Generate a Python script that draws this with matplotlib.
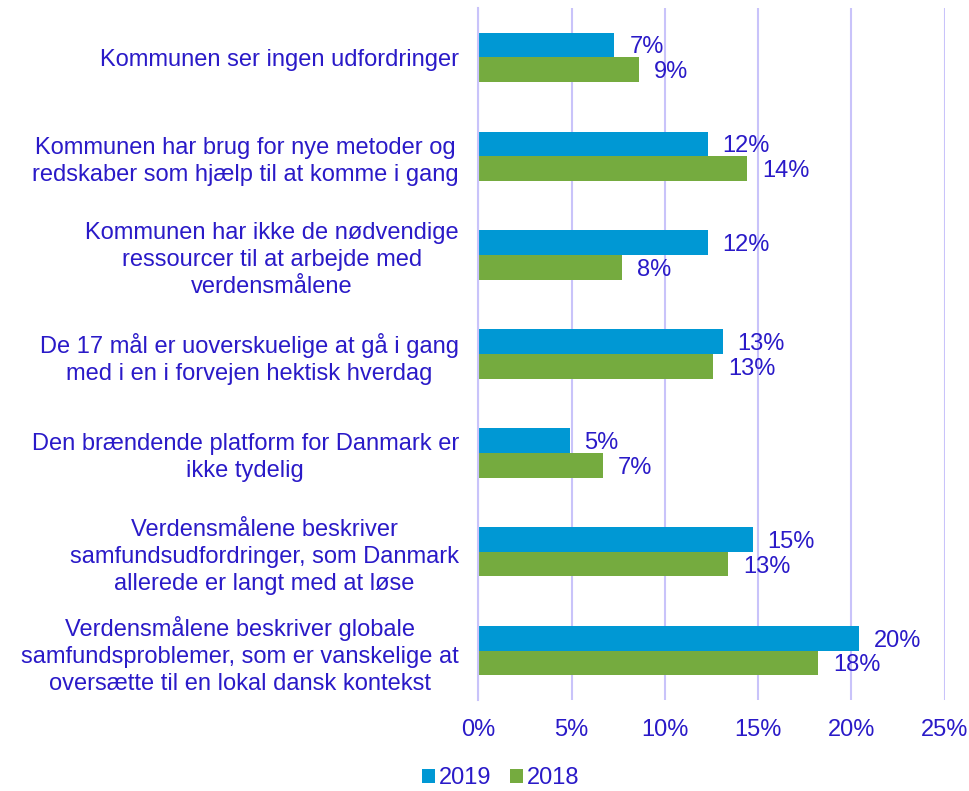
import matplotlib.pyplot as plt
import numpy as np

categories = [
    "Kommunen ser ingen udfordringer",
    "Kommunen har brug for nye metoder og\nredskaber som hjælp til at komme i gang",
    "Kommunen har ikke de nødvendige\nressourcer til at arbejde med\nverdensmålene",
    "De 17 mål er uoverskuelige at gå i gang\nmed i en i forvejen hektisk hverdag",
    "Den brændende platform for Danmark er\nikke tydelig",
    "Verdensmålene beskriver\nsamfundsudfordringer, som Danmark\nallerede er langt med at løse",
    "Verdensmålene beskriver globale\nsamfundsproblemer, som er vanskelige at\noversætte til en lokal dansk kontekst",
]
v2019 = [7.3, 12.3, 12.3, 13.1, 4.9, 14.7, 20.4]
v2018 = [8.6, 14.4, 7.7, 12.6, 6.7, 13.4, 18.2]

blue = "#0098D4"
green = "#75AB3F"
txt = "#2A1AC8"
grid = "#C9C3FA"
font = 17

plt.rcParams["font.family"] = ["Liberation Sans", "DejaVu Sans"]

fig = plt.figure(figsize=(9.70, 7.91), dpi=100)
ax = fig.add_axes([0.493, 0.115, 0.481, 0.875])

y = np.arange(len(categories))
h = 0.25
ax.barh(y - h / 2, v2019, height=h, color=blue, label="2019")
ax.barh(y + h / 2, v2018, height=h, color=green, label="2018")

for yi, a, b in zip(y, v2019, v2018):
    ax.text(a + 0.8, yi - h / 2, f"{int(a + 0.5)}%", va="center_baseline", ha="left", color=txt, fontsize=font)
    ax.text(b + 0.8, yi + h / 2, f"{int(b + 0.5)}%", va="center_baseline", ha="left", color=txt, fontsize=font)

ax.set_xlim(0, 25)
ax.set_ylim(len(categories) - 0.5, -0.5)
ax.set_xticks(np.arange(0, 26, 5))
ax.set_xticklabels([f"{t}%" for t in range(0, 26, 5)])
ax.set_yticks(y)
ax.set_yticklabels(categories, multialignment="center", linespacing=1.3)
ax.tick_params(axis="both", length=0, colors=txt, labelsize=font)
ax.tick_params(axis="x", pad=14)
ax.tick_params(axis="y", pad=14)
ax.xaxis.grid(True, color=grid, linewidth=1.5)
ax.set_axisbelow(True)
for s in ["top", "right", "bottom"]:
    ax.spines[s].set_visible(False)
ax.spines["left"].set_color(grid)
ax.spines["left"].set_linewidth(1.5)

fig.legend(loc="center", bbox_to_anchor=(0.516, 0.0164), ncol=2, frameon=False,
           fontsize=font, labelcolor=txt, handlelength=0.55, handleheight=0.55,
           handletextpad=0.17, columnspacing=0.8)

fig.savefig("out.png", dpi=100)
